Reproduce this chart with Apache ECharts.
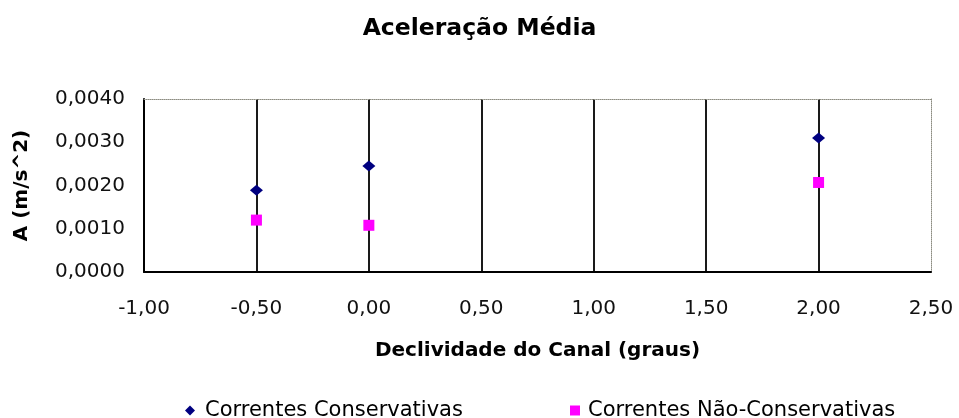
<!DOCTYPE html>
<html>
<head>
<meta charset="utf-8">
<script src="https://cdn.jsdelivr.net/npm/echarts@6/dist/echarts.min.js"></script>
<style>
  html, body { margin: 0; padding: 0; background: #fff; }
  #chart { width: 959px; height: 418px; }
</style>
</head>
<body>
<div id="chart"></div>
<script>
// Channel slope (degrees) and mean acceleration for each current type
const slopes = [-0.5, 0, 2];
const conservativas = [0.00189, 0.00245, 0.0031];
const naoConservativas = [0.0012, 0.00108, 0.00207];

const xTicks = { min: -1, max: 2.5, interval: 0.5 };
const yTicks = { min: 0, max: 0.004, interval: 0.001 };

const FONT = '"DejaVu Sans", Verdana, sans-serif';

const pairs = (xs, ys) => xs.map((x, i) => [x, ys[i]]);
const comma = (v, d) => v.toFixed(d).replace('.', ',');

const chart = echarts.init(document.getElementById('chart'), null, { renderer: 'canvas' });

chart.setOption({
  backgroundColor: '#ffffff',
  animation: false,
  textStyle: { fontFamily: FONT, color: '#000' },
  title: {
    text: 'Aceleração Média',
    left: 'center',
    top: 12,
    textStyle: { fontFamily: FONT, fontSize: 23.5, fontWeight: 'bold', color: '#000' }
  },
  grid: { left: 144, right: 28, top: 99, bottom: 146 },
  legend: [
    {
      data: [{ name: 'Correntes Conservativas', icon: 'diamond' }],
      left: 180, top: 395,
      itemWidth: 10, itemHeight: 10,
      textStyle: { fontFamily: FONT, fontSize: 21, color: '#000', padding: [0, 0, 0, 5] }
    },
    {
      data: [{ name: 'Correntes Não-Conservativas', icon: 'rect' }],
      left: 565, top: 395,
      itemWidth: 10, itemHeight: 10,
      textStyle: { fontFamily: FONT, fontSize: 21, color: '#000', padding: [0, 0, 0, 3] }
    }
  ],
  xAxis: [
    {
      type: 'value',
      min: xTicks.min, max: xTicks.max, interval: xTicks.interval,
      name: 'Declividade do Canal (graus)',
      nameLocation: 'middle',
      nameGap: 69,
      nameTextStyle: { fontFamily: FONT, fontSize: 20, fontWeight: 'bold', color: '#000' },
      axisLine: { onZero: false, lineStyle: { color: '#000', width: 2 } },
      axisTick: { show: false },
      axisLabel: {
        margin: 27, fontFamily: FONT, fontSize: 20, color: '#111',
        formatter: v => comma(v, 2)
      },
      splitLine: { show: true, showMinLine: false, showMaxLine: false, lineStyle: { color: '#1a1a1a', width: 2 } }
    },
    {
      type: 'value', position: 'top',
      min: xTicks.min, max: xTicks.max, interval: xTicks.interval,
      axisLine: { show: true, onZero: false, lineStyle: { color: '#8c8c80', width: 1, type: 'dotted' } },
      axisTick: { show: false }, axisLabel: { show: false }, splitLine: { show: false }
    }
  ],
  yAxis: [
    {
      type: 'value',
      min: yTicks.min, max: yTicks.max, interval: yTicks.interval,
      name: 'A (m/s^2)',
      nameLocation: 'middle',
      nameGap: 112,
      nameTextStyle: { fontFamily: FONT, fontSize: 20, fontWeight: 'bold', color: '#000' },
      axisLine: { show: true, onZero: false, lineStyle: { color: '#000', width: 2 } },
      axisTick: { show: false },
      axisLabel: {
        margin: 19, fontFamily: FONT, fontSize: 20, color: '#111',
        formatter: v => comma(v, 4)
      },
      splitLine: { show: false }
    },
    {
      type: 'value', position: 'right',
      min: yTicks.min, max: yTicks.max, interval: yTicks.interval,
      axisLine: { show: true, onZero: false, lineStyle: { color: '#8c8c80', width: 1, type: 'dotted' } },
      axisTick: { show: false }, axisLabel: { show: false }, splitLine: { show: false }
    }
  ],
  series: [
    {
      name: 'Correntes Conservativas',
      type: 'scatter',
      symbol: 'diamond',
      symbolSize: [13, 11],
      itemStyle: { color: '#000080', opacity: 1 },
      data: pairs(slopes, conservativas),
      z: 5
    },
    {
      name: 'Correntes Não-Conservativas',
      type: 'scatter',
      symbol: 'rect',
      symbolSize: 11,
      itemStyle: { color: '#ff00ff', opacity: 1 },
      data: pairs(slopes, naoConservativas),
      z: 5
    }
  ]
});
</script>
</body>
</html>
